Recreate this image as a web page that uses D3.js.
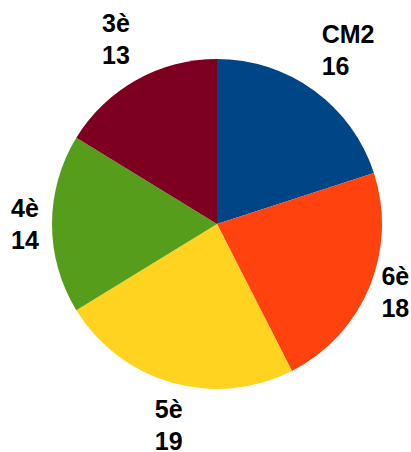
<!DOCTYPE html>
<html>
<head>
<meta charset="utf-8">
<script src="https://cdn.jsdelivr.net/npm/d3@7"></script>
<style>
  body { margin: 0; background: #fff; }
  text { font-family: "Liberation Sans", Arial, sans-serif; font-weight: bold; font-size: 25px; fill: #000; }
</style>
</head>
<body>
<div class="chart"></div>
<script>
// chart data
var categories = ['CM2', '6è', '5è', '4è', '3è'];
var values = [16, 18, 19, 14, 13];
var colors = ['#004586', '#ff420e', '#ffd320', '#579d1c', '#7e0021'];

var svgWidth = 411;
var svgHeight = 452;
var cx = 217;
var cy = 224;
var radius = 165;
var labelRadius = 178;  // anchor point of the labels
var lineGap = 31.5;     // distance between the two label lines

var svg = d3.select('.chart').append('svg')
  .attr('width', svgWidth)
  .attr('height', svgHeight);

var g = svg.append('g')
  .attr('transform', 'translate(' + cx + ',' + cy + ')');

var pie = d3.pie().sort(null).value(function(d) { return d; });
var arcs = pie(values);

var arc = d3.arc().innerRadius(0).outerRadius(radius);

g.selectAll('path')
  .data(arcs)
  .enter()
  .append('path')
  .attr('d', arc)
  .attr('fill', function(d, i) { return colors[i]; });

// labels: anchor on a circle outside the pie, box aligned to the side it sits on
arcs.forEach(function(d, i) {
  var t = svg.append('text');
  t.append('tspan').attr('x', 0).attr('y', 0).text(categories[i]);
  t.append('tspan').attr('x', 0).attr('y', lineGap).text(values[i]);

  var box = t.node().getBBox();
  var mid = (d.startAngle + d.endAngle) / 2;
  var dx = Math.sin(mid);
  var dy = -Math.cos(mid);
  var ax = cx + dx * labelRadius;
  var ay = cy + dy * labelRadius;

  var left;
  if (dx > 0.4) left = ax;
  else if (dx < -0.4) left = ax - box.width;
  else left = ax - box.width / 2;

  var top;
  if (dy > 0.4) top = ay;
  else if (dy < -0.4) top = ay - box.height;
  else top = ay - box.height / 2;

  t.attr('transform', 'translate(' + (left - box.x) + ',' + (top - box.y) + ')');
});
</script>
</body>
</html>
